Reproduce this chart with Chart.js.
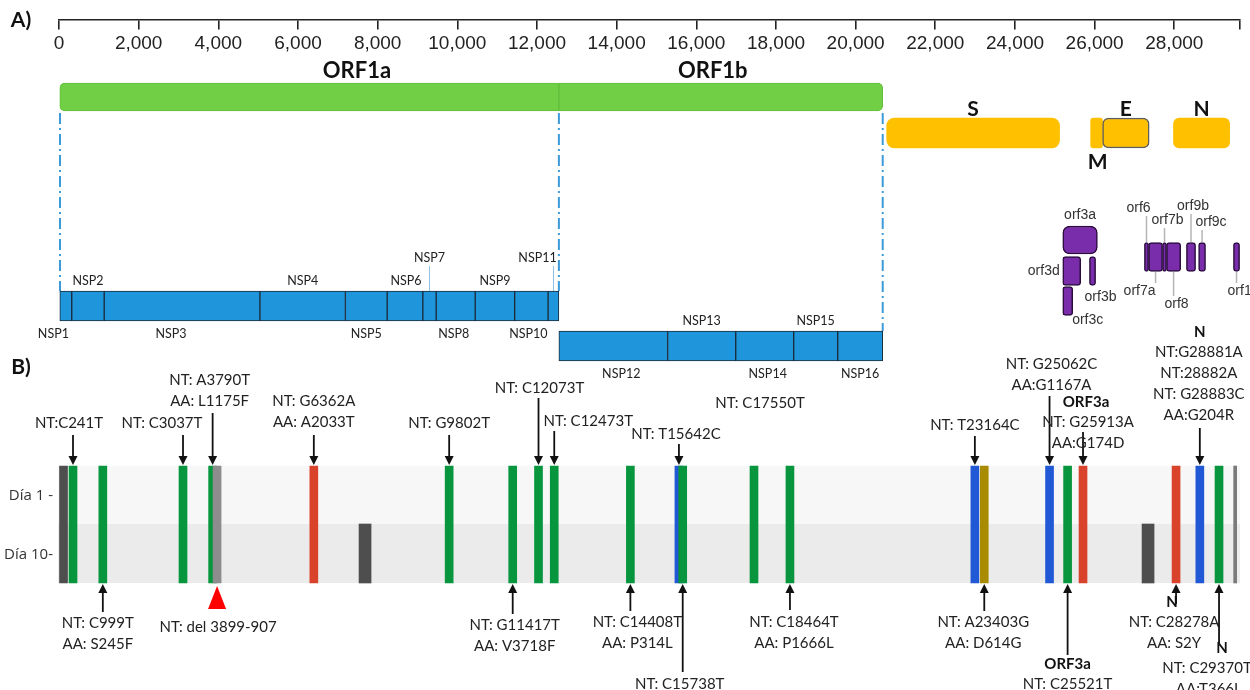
<!DOCTYPE html>
<html>
<head>
<meta charset="utf-8">
<script src="https://cdn.jsdelivr.net/npm/chart.js@4.4.1/dist/chart.umd.min.js"></script>
<style>
  html, body { margin: 0; padding: 0; background: #ffffff; }
  canvas { display: block; }
</style>
</head>
<body>
<canvas id="mapa" width="1250" height="690"></canvas>
<script>
// ---------------- Genome coordinate axis ----------------
const AXIS_TICKS = [0, 2000, 4000, 6000, 8000, 10000, 12000, 14000, 16000, 18000, 20000, 22000, 24000, 26000, 28000];
const AXIS_END = 29650;

// ---------------- Panel A: genome map ----------------
const ORF1_NAMES = ['ORF1a', 'ORF1b'];
const ORF1_SPANS = [[0, 12550], [12550, 20680]];

const STRUCT_NAMES = ['S', 'M', 'E', 'N'];
const STRUCT_SPANS = [[20780, 25120], [25900, 26200], [26200, 27370], [27980, 29390]];

const NSP_NAMES = ['NSP1', 'NSP2', 'NSP3', 'NSP4', 'NSP5', 'NSP6', 'NSP7', 'NSP8', 'NSP9', 'NSP10', 'NSP11',
                   'NSP12', 'NSP13', 'NSP14', 'NSP15', 'NSP16'];
const NSP_SPANS = [[0, 320], [320, 1135], [1135, 5045], [5045, 7190], [7190, 8240], [8240, 9135], [9135, 9470],
                   [9470, 10450], [10450, 11440], [11440, 12280], [12280, 12550],
                   [12550, 15280], [15280, 16990], [16990, 18445], [18445, 19550], [19550, 20680]];

const ACC_NAMES = ['orf3a', 'orf3d', 'orf3b', 'orf3c', 'orf6', 'orf7a', 'orf7b', 'orf8', 'orf9b', 'orf9c', 'orf10'];
const ACC_SPANS = [[25200, 26070], [25200, 25650], [25870, 26025], [25200, 25450], [27250, 27355], [27355, 27705],
                   [27705, 27805], [27805, 28160], [28305, 28535], [28610, 28785], [29485, 29640]];

// ---------------- Panel B: variants by day ----------------
const GENOME_LEN = 29903;
const DAY_LABELS = ['Día 1 -', 'Día 10-'];
const MUT_NT   = [0, 241, 999, 3037, 3790, 3903, 6362, 7664, 9802, 11417, 12073, 12473, 14408, 15642, 15738,
                  17550, 18464, 23164, 23403, 25062, 25521, 25913, 27566, 28278, 28882, 29370, 29780];
// resulting base (T/A/C/G), deletion, or region without coverage
const MUT_KIND = ['inicio', 'T', 'T', 'T', 'T', 'del', 'A', 'hueco', 'T', 'T', 'T', 'T', 'T', 'C', 'T',
                  'T', 'T', 'C', 'G', 'C', 'T', 'A', 'hueco', 'A', 'C', 'T', 'fin'];
const MUT_DAYS = ['ambos', 'ambos', 'ambos', 'ambos', 'ambos', 'ambos', 'ambos', 'd10', 'ambos', 'ambos', 'ambos',
                  'ambos', 'ambos', 'ambos', 'ambos', 'ambos', 'ambos', 'ambos', 'ambos', 'ambos', 'ambos', 'ambos',
                  'd10', 'ambos', 'ambos', 'ambos', 'ambos'];

const NOTE_NT = [241, 999, 3037, 3790, 3903, 6362, 9802, 11417, 12073, 12473, 14408, 15642, 15738, 17550,
                 18464, 23164, 23403, 25062, 25521, 25913, 28278, 28882, 29370];
const NOTE_GENE = [null, null, null, null, null, null, null, null, null, null, null, null, null, null,
                   null, null, null, null, 'ORF3a', 'ORF3a', 'N', 'N', 'N'];
const NOTE_LINES = [
  ['NT:C241T'],
  ['NT: C999T', 'AA: S245F'],
  ['NT: C3037T'],
  ['NT: A3790T', 'AA: L1175F'],
  ['NT: del 3899-907'],
  ['NT: G6362A', 'AA: A2033T'],
  ['NT: G9802T'],
  ['NT: G11417T', 'AA: V3718F'],
  ['NT: C12073T'],
  ['NT: C12473T'],
  ['NT: C14408T', 'AA: P314L'],
  ['NT: T15642C'],
  ['NT: C15738T'],
  ['NT: C17550T'],
  ['NT: C18464T', 'AA: P1666L'],
  ['NT: T23164C'],
  ['NT: A23403G', 'AA: D614G'],
  ['NT: G25062C', 'AA:G1167A'],
  ['NT: C25521T'],
  ['NT: G25913A', 'AA:G174D'],
  ['NT: C28278A', 'AA: S2Y'],
  ['NT:G28881A', 'NT:28882A', 'NT: G28883C', 'AA:G204R'],
  ['NT: C29370T', 'AA:T366I']
];

// ---------------- Layout (vertical tracks, label placement) ----------------
const TRACK = { axis: 20, orf1: 97, struct: 133, nsp1: 306, nsp2: 346 };
const TRACK_H = { orf1: 28, struct: 30, nsp: 30 };
const ACC_TRACK = [240, 271, 271, 301, 257, 257, 257, 257, 257, 257, 257];
const ROWS = { d1: [466, 524], d10: [524, 583] };
const ROW_FILL = ['#f7f7f7', '#ebebeb'];
const GUIDES = [{ v: 25, y: [113, 291] }, { v: 12550, y: [113, 291] }, { v: 20680, y: [113, 331] }];
const ORF1_DX = [48, -8];

const NSP_SIDE = ['below', 'above', 'below', 'above', 'below', 'above', 'high', 'below', 'above', 'below', 'high',
                  'below', 'above', 'below', 'above', 'below'];
const NSP_DX = [-12, 0, -11, 0, 0, 1, 0, -2, 0, -3, -16, 8, 0, 3, 0, 0];

const ACC_LABEL = [
  { dx: 0, y: 215, align: 'center', lead: null },
  { dx: -12, y: 271, align: 'right', lead: null },
  { dx: 8, y: 297, align: 'center', lead: null },
  { dx: 20, y: 320, align: 'center', lead: null },
  { dx: -8, y: 208, align: 'center', lead: 'up' },
  { dx: -16, y: 291, align: 'center', lead: 'down' },
  { dx: 3, y: 220, align: 'center', lead: 'up' },
  { dx: 3, y: 304, align: 'center', lead: 'down' },
  { dx: 2, y: 206, align: 'center', lead: 'up' },
  { dx: 9, y: 222, align: 'center', lead: 'up' },
  { dx: 7, y: 291, align: 'center', lead: 'down' }
];

// dx shifts the text block, hdx the bold gene heading
const NOTE_LAYOUT = [
  { dx: -4, y: 423, tail: 435 },
  { dx: -5, y: 623, tail: 612 },
  { dx: -21, y: 423, tail: 435 },
  { dx: -3, y: 380, tail: 413 },
  { dx: 1, y: 627, tail: null, marker: 'tri' },
  { dx: 0, y: 401, tail: 435 },
  { dx: 0, y: 423, tail: 435 },
  { dx: 2, y: 625, tail: 614 },
  { dx: 1, y: 388, tail: 398 },
  { dx: 34, y: 421, tail: 431 },
  { dx: 7, y: 622, tail: 611 },
  { dx: -3, y: 434, tail: 444 },
  { dx: -3, y: 684, tail: 672 },
  { dx: 6, y: 403, tail: null },
  { dx: 4, y: 622, tail: 610 },
  { dx: 0, y: 425, tail: 436 },
  { dx: -1, y: 622, tail: 611 },
  { dx: 2, y: 364, tail: 396 },
  { dx: 0, hdx: 0, y: 664, tail: 655 },
  { dx: 5, hdx: 3, y: 402, tail: 432 },
  { dx: -2, hdx: -4, y: 602, tail: 604 },
  { dx: -1, hdx: 0, y: 332, tail: 428 },
  { dx: -12, hdx: 3, y: 648, tail: 643 }
];

// ---------------- Styles ----------------
const FONT = '"Lato", "Liberation Sans", sans-serif';
const BASE_COLOR = { T: '#07963e', A: '#d9432c', C: '#2158d6', G: '#a88b00', del: '#8d8d8d',
                     inicio: '#4e4e4e', hueco: '#4e4e4e', fin: '#7a7a7a' };
const MUT_WIDTH = { T: 8, A: 8, C: 8, G: 8, del: 8, inicio: 8, hueco: 12, fin: 3 };

// ---------------- Datasets ----------------
function hbar(label, spans, yTrack, thickness, style, order) {
  return Object.assign({
    type: 'bar', label, indexAxis: 'y', xAxisID: 'x', yAxisID: 'yL', grouped: false, clip: false,
    barThickness: thickness, borderSkipped: false, order,
    data: spans.map((s, i) => ({ x: s, y: Array.isArray(yTrack) ? yTrack[i] : yTrack }))
  }, style);
}

const datasets = [];

datasets.push(hbar('ORF1ab', ORF1_SPANS, TRACK.orf1, TRACK_H.orf1, {
  backgroundColor: '#71cf45', borderColor: '#63bd3b', borderWidth: 1,
  borderRadius: (c) => c.dataIndex === 0
    ? { topLeft: 5, bottomLeft: 5, topRight: 0, bottomRight: 0 }
    : { topLeft: 0, bottomLeft: 0, topRight: 5, bottomRight: 5 }
}, 5));

datasets.push(hbar('Estructurales', STRUCT_SPANS, TRACK.struct, TRACK_H.struct, {
  backgroundColor: '#ffc000',
  borderColor: ['#ffc000', '#ffc000', '#5d5d5d', '#ffc000'],
  borderWidth: [0, 0, 1.5, 0],
  borderRadius: [8, 3, 6, 6]
}, 5));

datasets.push(hbar('NSP', NSP_SPANS, NSP_SPANS.map((s, i) => i < 11 ? TRACK.nsp1 : TRACK.nsp2), TRACK_H.nsp, {
  backgroundColor: '#1f96db', borderColor: '#1b2b3a', borderWidth: 1, borderRadius: 0
}, 5));

datasets.push(hbar('orf3a', ACC_SPANS.slice(0, 1), ACC_TRACK.slice(0, 1), 28, {
  backgroundColor: '#7a2daa', borderColor: '#2a0d3d', borderWidth: 1.5, borderRadius: 7
}, 5));
datasets.push(hbar('Accesorios', ACC_SPANS.slice(1), ACC_TRACK.slice(1), 29, {
  backgroundColor: '#7a2daa', borderColor: '#2a0d3d', borderWidth: 1.5, borderRadius: 3
}, 5));

GUIDES.forEach((g) => {
  datasets.push({
    type: 'line', xAxisID: 'x', yAxisID: 'yL', order: 6, clip: false,
    data: [{ x: g.v, y: g.y[0] }, { x: g.v, y: g.y[1] }],
    borderColor: '#3b9ad8', borderWidth: 2, borderDash: [11, 4, 2, 4], pointRadius: 0, fill: false
  });
});

// variant bars, one dataset per bar width
const widthGroups = [...new Set(MUT_KIND.map(k => MUT_WIDTH[k]))];
widthGroups.forEach((w) => {
  const idx = MUT_NT.map((_, i) => i).filter(i => MUT_WIDTH[MUT_KIND[i]] === w);
  datasets.push({
    type: 'bar', indexAxis: 'x', xAxisID: 'x2', yAxisID: 'yL', grouped: false, order: 1, clip: false,
    barThickness: w, borderWidth: 0, borderSkipped: false,
    data: idx.map(i => ({ x: MUT_NT[i], y: MUT_DAYS[i] === 'd10' ? ROWS.d10 : [ROWS.d1[0], ROWS.d10[1]] })),
    backgroundColor: idx.map(i => BASE_COLOR[MUT_KIND[i]])
  });
});

// ---------------- Drawing helpers ----------------
function text(ctx, s, x, y, font, color, align) {
  ctx.font = font;
  ctx.fillStyle = color || '#222';
  ctx.textAlign = align || 'center';
  ctx.textBaseline = 'middle';
  ctx.fillText(s, x, y);
}

function arrow(ctx, x, yFrom, yTo) {
  const dir = yTo > yFrom ? 1 : -1;
  const head = 9, half = 4.5;
  ctx.strokeStyle = '#111';
  ctx.fillStyle = '#111';
  ctx.lineWidth = 1.8;
  ctx.beginPath();
  ctx.moveTo(x, yFrom);
  ctx.lineTo(x, yTo - dir * head);
  ctx.stroke();
  ctx.beginPath();
  ctx.moveTo(x, yTo);
  ctx.lineTo(x - half, yTo - dir * head);
  ctx.lineTo(x + half, yTo - dir * head);
  ctx.closePath();
  ctx.fill();
}

function vline(ctx, x, y0, y1, color, width) {
  ctx.strokeStyle = color;
  ctx.lineWidth = width;
  ctx.beginPath();
  ctx.moveTo(x, y0);
  ctx.lineTo(x, y1);
  ctx.stroke();
}

const annotations = {
  id: 'genomeAnnotations',
  beforeDatasetsDraw(chart) {
    const { ctx } = chart;
    const xB = chart.scales.x2, yL = chart.scales.yL;
    ctx.save();
    const left = xB.left - 1, w = xB.right - left;
    [ROWS.d1, ROWS.d10].forEach((r, i) => {
      const t = yL.getPixelForValue(r[0]), b = yL.getPixelForValue(r[1]);
      ctx.fillStyle = ROW_FILL[i];
      ctx.fillRect(left, t, w, b - t);
    });
    ctx.restore();
  },
  afterDatasetsDraw(chart) {
    const { ctx } = chart;
    const xA = chart.scales.x, xB = chart.scales.x2, yL = chart.scales.yL;
    const px = (v) => xA.getPixelForValue(v);
    const py = (v) => yL.getPixelForValue(v);
    ctx.save();

    // panel letters
    text(ctx, 'A)', 21, 20, 'bold 21px ' + FONT, '#111', 'center');
    text(ctx, 'B)', 21, 367, 'bold 21px ' + FONT, '#111', 'center');

    // ORF1a / ORF1b
    ORF1_NAMES.forEach((n, i) => {
      const c = (px(ORF1_SPANS[i][0]) + px(ORF1_SPANS[i][1])) / 2;
      text(ctx, n, c + ORF1_DX[i], py(TRACK.orf1) - 26, 'bold 22px ' + FONT, '#111');
    });

    // structural genes
    STRUCT_NAMES.forEach((n, i) => {
      const c = (px(STRUCT_SPANS[i][0]) + px(STRUCT_SPANS[i][1])) / 2;
      const y = n === 'M' ? py(TRACK.struct) + 29 : py(TRACK.struct) - 24;
      text(ctx, n, c + (n === 'M' ? 1 : 0), y, 'bold 21px ' + FONT, '#111');
    });

    // non-structural proteins
    NSP_NAMES.forEach((n, i) => {
      const yc = py(i < 11 ? TRACK.nsp1 : TRACK.nsp2);
      const top = yc - TRACK_H.nsp / 2, bottom = yc + TRACK_H.nsp / 2;
      const c = (px(NSP_SPANS[i][0]) + px(NSP_SPANS[i][1])) / 2;
      let y;
      if (NSP_SIDE[i] === 'above') y = top - 10;
      else if (NSP_SIDE[i] === 'below') y = bottom + 13;
      else {
        y = top - 33;
        vline(ctx, c, top - 25, top, '#8fc0e4', 1);
      }
      text(ctx, n, c + NSP_DX[i], y, '12.5px ' + FONT, '#222');
    });

    // accessory ORFs
    ACC_NAMES.forEach((n, i) => {
      const c = (px(ACC_SPANS[i][0]) + px(ACC_SPANS[i][1])) / 2;
      const yc = py(ACC_TRACK[i]);
      const L = ACC_LABEL[i];
      if (L.lead === 'up') vline(ctx, c, L.y + 8, yc - 15, '#b5b5b5', 1.5);
      if (L.lead === 'down') vline(ctx, c, yc + 15, L.y - 8, '#b5b5b5', 1.5);
      text(ctx, n, c + L.dx, L.y, '14px "Liberation Sans", Arial, sans-serif', '#333', L.align);
    });

    // day rows
    DAY_LABELS.forEach((d, i) => {
      const r = i === 0 ? ROWS.d1 : ROWS.d10;
      text(ctx, d, 53, (py(r[0]) + py(r[1])) / 2 + 1, '15px "Open Sans", sans-serif', '#333', 'right');
    });

    // variant annotations
    const rowTop = py(ROWS.d1[0]), rowBottom = py(ROWS.d10[1]);
    NOTE_NT.forEach((nt, i) => {
      const x = xB.getPixelForValue(nt);
      const L = NOTE_LAYOUT[i];
      const isTop = L.y < rowTop;
      if (L.tail !== null) arrow(ctx, x, L.tail, isTop ? rowTop - 1 : rowBottom + 1);
      if (L.marker === 'tri') {
        ctx.fillStyle = '#ff0000';
        ctx.beginPath();
        ctx.moveTo(x, rowBottom + 3);
        ctx.lineTo(x - 9, rowBottom + 26);
        ctx.lineTo(x + 9, rowBottom + 26);
        ctx.closePath();
        ctx.fill();
      }
      let y = L.y;
      const step = 21;
      if (NOTE_GENE[i]) {
        text(ctx, NOTE_GENE[i], x + (L.hdx || 0), y, 'bold 15px ' + FONT, '#111');
        y += step - 1;
      }
      NOTE_LINES[i].forEach((s) => {
        text(ctx, s, x + L.dx, y, '15px ' + FONT, '#222');
        y += step;
      });
    });

    ctx.restore();
  }
};

// ---------------- Chart ----------------
new Chart(document.getElementById('mapa'), {
  type: 'bar',
  data: { datasets },
  options: {
    responsive: false,
    animation: false,
    devicePixelRatio: 1,
    layout: { padding: { left: 59, right: 10, top: 0, bottom: 0 } },
    plugins: { legend: { display: false }, tooltip: { enabled: false }, title: { display: false } },
    scales: {
      x: {
        type: 'linear', axis: 'x', min: 0, max: AXIS_END, offset: false,
        position: { yL: TRACK.axis },
        afterBuildTicks: (s) => { s.ticks = AXIS_TICKS.concat([AXIS_END]).map(v => ({ value: v })); },
        ticks: {
          autoSkip: false, maxRotation: 0, minRotation: 0, padding: 3, color: '#222',
          font: { family: '"Liberation Sans", Arial, sans-serif', size: 19 },
          callback: (v) => (v === AXIS_END ? '' : Number(v).toLocaleString('en-US'))
        },
        grid: { display: true, offset: false, drawOnChartArea: false, drawTicks: true, tickLength: 9, color: '#222', lineWidth: 1.6 },
        border: { display: true, color: '#222', width: 1.6 }
      },
      x2: { type: 'linear', axis: 'x', min: -115, max: GENOME_LEN, offset: false, display: false },
      yL: { type: 'linear', axis: 'y', min: 0, max: 690, reverse: true, offset: false, display: false }
    }
  },
  plugins: [annotations]
});
</script>
</body>
</html>
